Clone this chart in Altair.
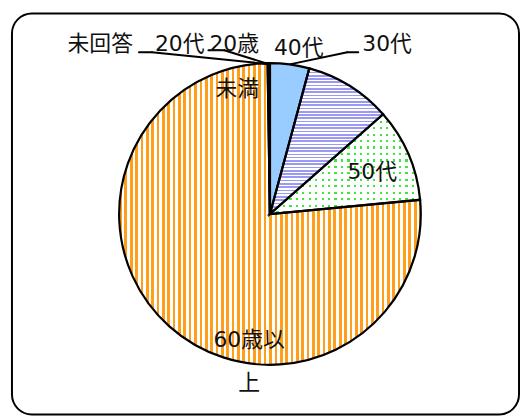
import altair as alt
import numpy as np
import pandas as pd

# ---- data (clockwise from 12 o'clock) ----
categories = ["40代", "30代", "50代", "60歳以上", "未回答", "20代", "20歳未満"]
shares = [4.2, 9.3, 10.0, 76.25, 0.1, 0.1, 0.05]

# label texts as printed on the chart
label_texts = ["未回答", "20代", "20歳", "未満", "40代", "30代", "50代", "60歳以", "上"]

# ---- layout (view pixel coordinates) ----
W, H = 511, 404
CX, CY, R = 260, 202, 152
label_x = [89, 169, 224, 227, 289, 378, 363, 239, 239]
label_y = [31, 31, 31, 76, 35, 31, 160, 329, 372]
leader_x1 = [128, 141, 198, 214, 349, 338]
leader_y1 = [39, 39, 37, 37, 39, 39]
leader_x2 = [141, 259, 214, 259, 338, 281]
leader_y2 = [39, 51, 37, 51, 39, 51]

FONT = "DejaVu Sans, Noto Sans CJK JP"

total = float(sum(shares))
df = pd.DataFrame({"category": categories, "share": shares})
df["end"] = np.cumsum(df["share"])
df["start"] = df["end"] - df["share"]


def slice_bbox(cat):
    row = df[df.category == cat].iloc[0]
    a0 = row.start / total * 2 * np.pi
    a1 = row.end / total * 2 * np.pi
    a = np.linspace(a0, a1, 400)
    xs = np.concatenate([[0.0], R * np.sin(a)])
    ys = np.concatenate([[0.0], -R * np.cos(a)])
    return xs.max() - xs.min(), ys.max() - ys.min()


def stripes(on, off, length, period, duty, vertical_bands):
    stops = []
    pos = 0.0
    while pos < length - 1e-9:
        a = round(pos / length, 5)
        b = round(min((pos + duty * period) / length, 1.0), 5)
        c = round(min((pos + period) / length, 1.0), 5)
        stops += [
            {"offset": a, "color": on},
            {"offset": b, "color": on},
            {"offset": b, "color": off},
            {"offset": c, "color": off},
        ]
        pos += period
    g = {"gradient": "linear", "stops": stops}
    if vertical_bands:
        g.update(x1=0, y1=0, x2=1, y2=0)
    else:
        g.update(x1=0, y1=0, x2=0, y2=1)
    return g


ow, oh = slice_bbox("60歳以上")
lw, lh = slice_bbox("30代")
gw, gh = slice_bbox("50代")

orange_grad = stripes("#FF9E1B", "#FFFFFF", ow, 5.4, 0.5, True)
lav_grad = stripes("#9A9AF5", "#FFFFFF", lh, 3.3, 0.5, False)
green_cols = stripes("#3BE83B", "#FFFFFF", gw, 6.5, 0.34, True)
green_mask = stripes("rgba(255,255,255,0)", "#FFFFFF", gh, 6.5, 0.34, False)

theta_enc = dict(
    theta=alt.Theta("start:Q", scale=alt.Scale(domain=[0, total])),
    theta2=alt.Theta2("end:Q"),
    x=alt.value(CX),
    y=alt.value(CY),
)

base = alt.Chart(df)

white = base.mark_arc(outerRadius=R, fill="#FFFFFF", strokeWidth=0).encode(**theta_enc)
blue = base.transform_filter(alt.datum.category == "40代").mark_arc(
    outerRadius=R, fill="#99CCFF", strokeWidth=0
).encode(**theta_enc)
orange = base.transform_filter(alt.datum.category == "60歳以上").mark_arc(
    outerRadius=R, fill=orange_grad, strokeWidth=0
).encode(**theta_enc)
lav = base.transform_filter(alt.datum.category == "30代").mark_arc(
    outerRadius=R, fill=lav_grad, strokeWidth=0
).encode(**theta_enc)
green1 = base.transform_filter(alt.datum.category == "50代").mark_arc(
    outerRadius=R, fill=green_cols, strokeWidth=0
).encode(**theta_enc)
green2 = base.transform_filter(alt.datum.category == "50代").mark_arc(
    outerRadius=R, fill=green_mask, strokeWidth=0
).encode(**theta_enc)
outline = base.mark_arc(
    outerRadius=R, fill="#FFFFFF", fillOpacity=0, stroke="#000000", strokeWidth=2.2
).encode(**theta_enc)

leaders_df = pd.DataFrame(
    {"x": leader_x1, "y": leader_y1, "x2": leader_x2, "y2": leader_y2}
)
leaders = alt.Chart(leaders_df).mark_rule(color="#000000", strokeWidth=2, strokeCap="round").encode(
    x=alt.X("x:Q", scale=None, axis=None),
    y=alt.Y("y:Q", scale=None, axis=None),
    x2="x2:Q",
    y2="y2:Q",
)

labels_df = pd.DataFrame({"text": label_texts, "x": label_x, "y": label_y})
labels = alt.Chart(labels_df).mark_text(
    font=FONT, fontSize=22, color="#111111", align="center", baseline="middle"
).encode(
    x=alt.X("x:Q", scale=None, axis=None),
    y=alt.Y("y:Q", scale=None, axis=None),
    text="text:N",
)

chart = (
    alt.layer(white, blue, orange, lav, green1, green2, outline, leaders, labels)
    .properties(
        width=W,
        height=H,
        padding={"left": 4, "top": 4, "right": 2, "bottom": 0},
        autosize="none",
        background="#FFFFFF",
    )
    .configure_view(stroke="#000000", strokeWidth=2, cornerRadius=20)
)

chart.save("out.html", embed_options={"renderer": "svg", "actions": False})
